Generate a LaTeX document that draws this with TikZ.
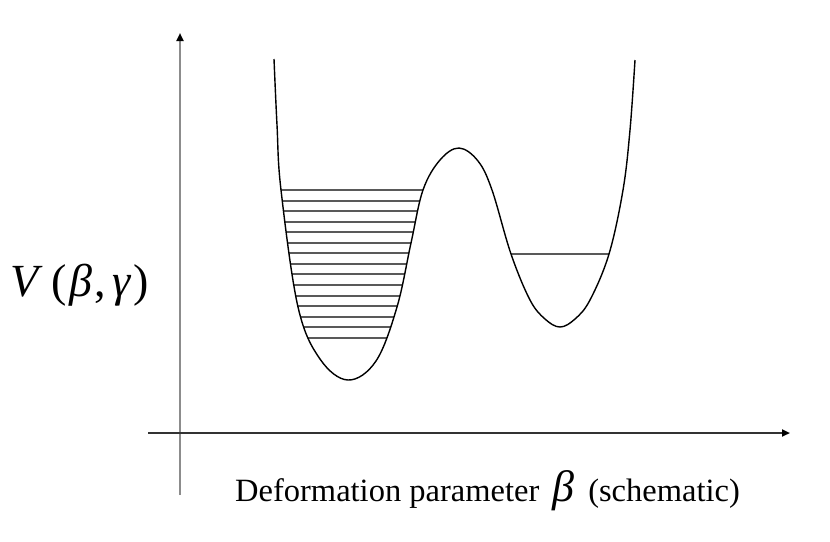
\documentclass[tikz,border=0pt]{standalone}
\usepackage{fontspec}
\setmainfont{Liberation Serif}
\usetikzlibrary{arrows.meta}
\begin{document}
\begin{tikzpicture}[x=1pt,y=-1pt,
  yaxisline/.style={line width=2pt,black!45,-{Triangle[length=8pt,width=7pt,black]}},
  xaxisline/.style={line width=2pt,black!80,-{Triangle[length=8pt,width=7pt,black]}},
  curve/.style={line width=1.4pt,black},
  level/.style={line width=2pt,black!65},
  lbl/.style={inner sep=0pt,anchor=base west}]
\useasboundingbox[fill=white] (0,0) rectangle (830,541);
% axes
\coordinate (ybot) at (180,495);
\coordinate (ytop) at (180,33);
\coordinate (xl) at (148,433);
\coordinate (xr) at (790,433);
\draw[yaxisline] (ybot) -- (ytop);
\draw[xaxisline] (xl) -- (xr);
% levels, clipped to the wells
\begin{scope}
\clip plot[smooth,tension=0.6] coordinates {(274,59) (277,125) (281,190) (298,307) (320,359) (348,380) (376,361) (397,307) (411,243) (423,190) (440,160) (459,148) (478,161) (492,190) (511,254) (530,300) (545,319) (560,327) (575,319) (590,300) (609,254) (623,190) (630,130) (635,60)} -- cycle;
\foreach \i in {0,...,14}{
  \pgfmathsetmacro{\yy}{190+10.55*\i}
  \draw[level] (260,\yy) -- (450,\yy);
}
\draw[level] (495,254) -- (625,254);
\end{scope}
% potential curve
\draw[curve] plot[smooth,tension=0.6] coordinates {(274,59) (277,125) (281,190) (298,307) (320,359) (348,380) (376,361) (397,307) (411,243) (423,190) (440,160) (459,148) (478,161) (492,190) (511,254) (530,300) (545,319) (560,327) (575,319) (590,300) (609,254) (623,190) (630,130) (635,60)};
% labels
\node[lbl,font=\fontsize{46}{50}\selectfont] (vlabel) at (10,296) {\textit{V}\kern9pt(\kern2pt\textit{β}\kern3pt,\kern6pt\textit{γ}\kern2pt)};
\node[lbl,font=\fontsize{32.5}{36}\selectfont] (xlabel) at (235,501) {Deformation parameter \,{\fontsize{44}{46}\selectfont\textit{β}}\, (schematic)};
\end{tikzpicture}
\end{document}
